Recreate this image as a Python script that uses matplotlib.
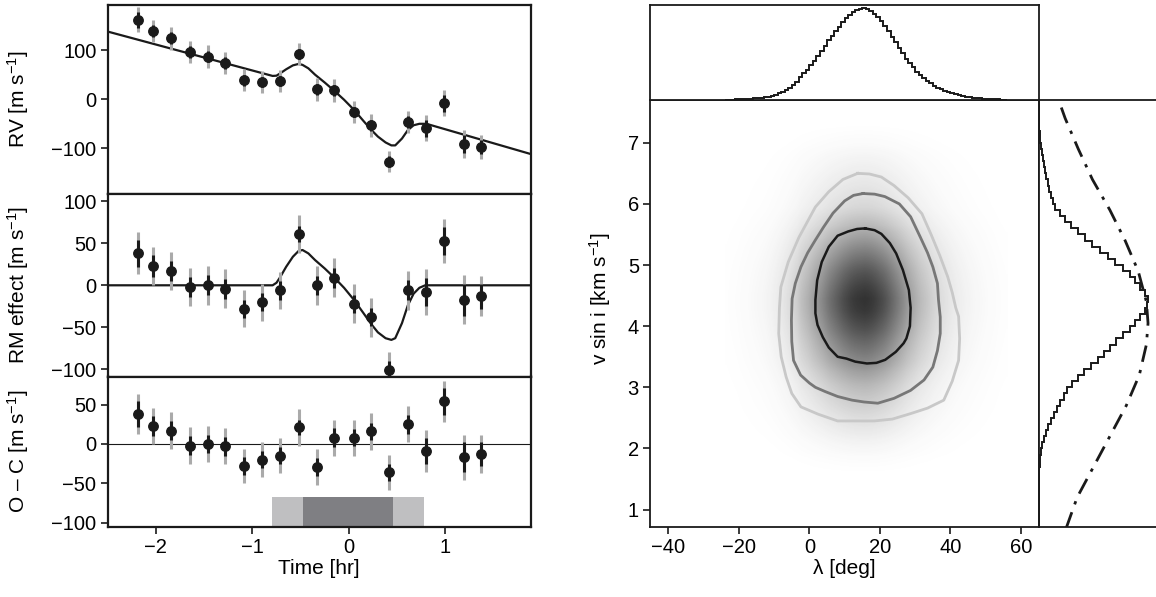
import numpy as np
import matplotlib
matplotlib.use("Agg")
import matplotlib.pyplot as plt
from matplotlib.colors import LinearSegmentedColormap, PowerNorm

plt.rcParams["font.family"] = ["Liberation Sans", "DejaVu Sans"]
plt.rcParams["mathtext.fontset"] = "custom"
plt.rcParams["mathtext.rm"] = "Liberation Sans"
plt.rcParams["mathtext.it"] = "Liberation Sans:italic"

# --- RV time series (hours from mid-transit) ---
times = [-2.18, -2.03, -1.84, -1.65, -1.46, -1.28, -1.09, -0.90, -0.71, -0.52,
         -0.33, -0.15, 0.05, 0.23, 0.42, 0.61, 0.80, 0.99, 1.19, 1.37]
rv = [162, 139, 124, 96, 87, 74, 39, 35, 37, 92,
      20, 18, -26, -53, -127, -46, -59, -8, -91, -97]
rm = [38, 23, 17, -2, 0, -4, -28, -20, -6, 61,
      0, 9, -22, -38, -101, -6, -8, 53, -17, -13]
omc = [38, 23, 17, -2, 0, -3, -28, -20, -15, 21,
       -29, 8, 8, 16, -36, 25, -9, 54, -17, -13]
err_int = [16, 13, 12, 12, 12, 12, 11, 11, 11, 10,
           11, 12, 11, 11, 11, 12, 17, 17, 19, 15]
err_tot = [25, 23, 23, 23, 23, 23, 22, 22, 22, 23,
           23, 23, 23, 23, 22, 23, 27, 26, 29, 24]

# model curves
model_t = [-2.5, -0.79, -0.75, -0.71, -0.65, -0.58, -0.52, -0.48, -0.42, -0.35,
           -0.25, -0.15, -0.05, 0.05, 0.15, 0.23, 0.30, 0.38, 0.44, 0.48,
           0.55, 0.61, 0.67, 0.73, 0.79, 0.82, 1.89]
rm_model = [0, 0, 3, 10, 22, 34, 41, 42, 38, 30,
            20, 9, -3, -17, -33, -46, -56, -63, -65, -63,
            -45, -24, -10, -3, 0, 0, 0]
rv_model = [138, 47.5, 48, 53, 61, 69, 72, 70, 63, 50,
            34, 17, -1, -21, -44, -62, -76, -88, -94, -94,
            -80, -63, -53, -50, -50, -51, -112]

# transit contacts [hr]
contacts = [-0.795, -0.474, 0.453, 0.774]

# --- posterior marginals ---
lam_edges = np.arange(-24, 57, 1.0)
lam_hist = [0.003, 0.004, 0.005, 0.006, 0.008, 0.010, 0.012, 0.015, 0.018, 0.021,
            0.025, 0.030, 0.037, 0.046, 0.057, 0.071, 0.088, 0.108, 0.133, 0.162,
            0.196, 0.25, 0.29, 0.33, 0.38, 0.43, 0.48, 0.53, 0.59, 0.65,
            0.70, 0.75, 0.80, 0.85, 0.89, 0.93, 0.96, 0.98, 0.99, 1.0,
            0.99, 0.97, 0.94, 0.90, 0.86, 0.81, 0.75, 0.69, 0.63, 0.57,
            0.51, 0.45, 0.40, 0.355, 0.31, 0.27, 0.24, 0.21, 0.18, 0.155,
            0.135, 0.115, 0.10, 0.085, 0.072, 0.061, 0.052, 0.044, 0.037, 0.031,
            0.026, 0.022, 0.018, 0.015, 0.012, 0.010, 0.008, 0.006, 0.005, 0.004]

v_edges = np.round(np.arange(0.7, 7.71, 0.1), 2)
v_hist = [0, 0, 0, 0, 0, 0, 0, 0, 0, 0.002,
          0.005, 0.010, 0.02, 0.03, 0.045, 0.065, 0.085, 0.11, 0.135, 0.165,
          0.195, 0.225, 0.26, 0.30, 0.355, 0.41, 0.48, 0.545, 0.60, 0.655,
          0.71, 0.77, 0.83, 0.88, 0.93, 0.97, 0.99, 1.0, 0.97, 0.93,
          0.88, 0.83, 0.77, 0.70, 0.63, 0.56, 0.49, 0.42, 0.36, 0.29,
          0.24, 0.19, 0.15, 0.13, 0.11, 0.095, 0.08, 0.068, 0.055, 0.045,
          0.035, 0.025, 0.015, 0.009, 0.005, 0.002, 0, 0, 0, 0]

prior_v = [0.7, 1.2, 1.7, 2.2, 2.7, 3.2, 3.7, 4.05, 4.4, 4.9, 5.4, 5.9, 6.4, 6.9, 7.4, 7.7]
prior_p = [0.25, 0.35, 0.50, 0.65, 0.80, 0.92, 0.985, 1.0, 0.985, 0.91, 0.79, 0.65, 0.49, 0.36, 0.24, 0.18]

# credible-region contours (lambda [deg], v sin i [km/s])
c1_lam = [15.8, 18.5, 20.4, 22.8, 24.6, 26.5, 28.2, 28.7, 28.5, 27.5, 26.7, 24.5, 21.5, 19, 16.3,
          13, 10.5, 8.0, 5.5, 3.8, 2.3, 1.7, 1.7, 2.2, 3.5, 5.5, 8, 11, 13.5, 15.8]
c1_v = [5.60, 5.57, 5.51, 5.36, 5.19, 4.92, 4.59, 4.30, 4.00, 3.80, 3.72, 3.58, 3.45, 3.40, 3.39,
        3.42, 3.47, 3.50, 3.65, 3.82, 4.02, 4.21, 4.43, 4.75, 5.05, 5.30, 5.48, 5.55, 5.59, 5.60]
c2_lam = [15.2, 18.5, 21.4, 25.5, 28.7, 31.5, 33.5, 35, 36.3, 36.6, 37.1, 37.1, 36.3, 35, 32.5,
          28.7, 24, 19.4, 15.5, 12.1, 8, 4.5, 1.7, 0, -2.5, -4.5, -5.0, -5.1, -4.9, -4.0,
          -2.4, -0.5, 1.7, 4, 6.7, 10, 12.5, 15.2]
c2_v = [6.17, 6.16, 6.12, 6.0, 5.79, 5.45, 5.2, 4.97, 4.7, 4.43, 4.15, 3.88, 3.6, 3.33, 3.12,
        2.95, 2.82, 2.74, 2.76, 2.79, 2.85, 2.93, 3.0, 3.07, 3.2, 3.44, 3.75, 4.1, 4.45, 4.70,
        4.97, 5.2, 5.41, 5.62, 5.85, 6.05, 6.14, 6.17]
c3_lam = [13.7, 17, 20.4, 24, 28, 31.9, 34.5, 37, 39.2, 40.5, 41.5, 42.3, 42.6, 42.3, 40.5,
          38.1, 33.5, 28.7, 23.5, 18.4, 13, 8, 2.5, -2.4, -5, -6.6, -8, -8.7, -8.5, -8.1,
          -6, -3, 1.7, 5.5, 9.5, 13.7]
c3_v = [6.50, 6.49, 6.44, 6.30, 6.10, 5.84, 5.5, 5.15, 4.81, 4.55, 4.3, 4.16, 3.8, 3.44, 3.1,
        2.79, 2.66, 2.57, 2.48, 2.45, 2.45, 2.45, 2.56, 2.68, 2.9, 3.17, 3.5, 3.88, 4.3, 4.64,
        5.05, 5.45, 5.95, 6.2, 6.4, 6.50]

W, H = 1156, 597
fig = plt.figure(figsize=(W / 100, H / 100), dpi=100)


def px_axes(x0, y0, x1, y1):
    return fig.add_axes([x0 / W, 1 - y1 / H, (x1 - x0) / W, (y1 - y0) / H])


def style(ax, lw=1.6):
    for s in ax.spines.values():
        s.set_linewidth(lw)
        s.set_color("#1a1a1a")
    ax.tick_params(direction="out", length=5, width=1.2, labelsize=14.5, color="#1a1a1a", pad=3)


def draw_points(ax, y):
    ax.errorbar(times, y, yerr=err_tot, fmt="none", ecolor="#aaaaaa", elinewidth=2.2, capsize=0, zorder=3)
    ax.errorbar(times, y, yerr=err_int, fmt="o", color="#1a1a1a", ms=6.8, elinewidth=2.2, capsize=0, zorder=4)


ax1 = px_axes(107.5, 5, 531, 193.5)
ax2 = px_axes(107.5, 193.5, 531, 376.5)
ax3 = px_axes(107.5, 376.5, 531, 527)

ax1.plot(model_t, rv_model, color="#1a1a1a", lw=1.6, zorder=2)
draw_points(ax1, rv)
ax1.set_ylim(-192, 192)
ax1.set_yticks([-100, 0, 100])
ax1.set_ylabel("RV [m s$^{-1}$]", fontsize=15)

ax2.plot(model_t, rm_model, color="#1a1a1a", lw=1.6, zorder=2)
draw_points(ax2, rm)
ax2.set_ylim(-108.6, 109.3)
ax2.set_yticks([-100, -50, 0, 50, 100])
ax2.set_ylabel("RM effect [m s$^{-1}$]", fontsize=15)

ax3.axhline(0, color="#1a1a1a", lw=0.8, zorder=2)
ax3.fill_between(contacts[0:2], -67, -120, color="#bfbfc1", lw=0, zorder=1)
ax3.fill_between(contacts[1:3], -67, -120, color="#7f7f83", lw=0, zorder=1)
ax3.fill_between(contacts[2:4], -67, -120, color="#bfbfc1", lw=0, zorder=1)
draw_points(ax3, omc)
ax3.set_ylim(-105.2, 85.5)
ax3.set_yticks([-100, -50, 0, 50])
ax3.set_ylabel("O – C [m s$^{-1}$]", fontsize=15)
ax3.set_xlabel("Time [hr]", fontsize=15, labelpad=1)
ax3.set_xticks([-2, -1, 0, 1])

for ax in (ax1, ax2, ax3):
    ax.set_xlim(-2.5, 1.886)
    style(ax)
    ax.yaxis.set_label_coords(-0.18, 0.5)
for ax in (ax1, ax2):
    ax.tick_params(axis="x", bottom=False, labelbottom=False)

# --- posterior panels ---
axm = px_axes(650, 100, 1039, 527)
axt = px_axes(650, 5, 1039, 100)
axr = px_axes(1039, 100, W, 527)

dens = np.outer(v_hist, lam_hist)
cmap = LinearSegmentedColormap.from_list("g", ["#ffffff", "#333333"])
axm.imshow(dens, extent=(lam_edges[0], lam_edges[-1], v_edges[0], v_edges[-1]), origin="lower",
           aspect="auto", cmap=cmap, norm=PowerNorm(0.85, vmin=0, vmax=1), interpolation="bilinear", zorder=0)
axm.plot(c3_lam, c3_v, color="#c8c8c8", lw=2.0)
axm.plot(c2_lam, c2_v, color="#777777", lw=2.0)
axm.plot(c1_lam, c1_v, color="#1a1a1a", lw=1.8)
axm.set_xlim(-45.2, 65.1)
axm.set_ylim(0.715, 7.70)
axm.set_xticks([-40, -20, 0, 20, 40, 60])
axm.set_yticks([1, 2, 3, 4, 5, 6, 7])
axm.set_xlabel("λ [deg]", fontsize=15, labelpad=1)
axm.set_ylabel("v sin i [km s$^{-1}$]", fontsize=15)
axm.yaxis.set_label_coords(-0.095, 0.535)
style(axm, lw=1.3)

axt.stairs(lam_hist, lam_edges, color="#1a1a1a", lw=1.4)
axt.set_xlim(-45.2, 65.1)
axt.set_ylim(0, 1.036)
axt.set_xticks([])
axt.set_yticks([])
style(axt, lw=1.3)

axr.stairs(v_hist, v_edges, orientation="horizontal", color="#1a1a1a", lw=1.4)
axr.plot(prior_p, prior_v, color="#1a1a1a", lw=2.0, ls=(0, (6, 3, 1.2, 3)))
axr.set_ylim(0.715, 7.70)
axr.set_xlim(0, 1.073)
axr.set_xticks([])
axr.set_yticks([])
style(axr, lw=1.3)
axr.spines["right"].set_visible(False)

fig.savefig("out.png", dpi=100)
